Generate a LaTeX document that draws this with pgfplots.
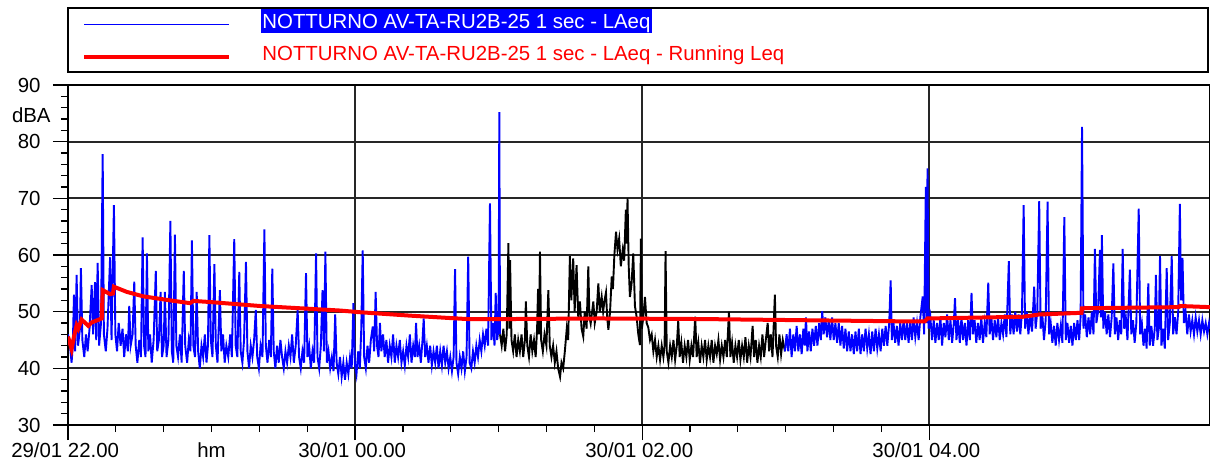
\documentclass[border=0pt]{standalone}
\usepackage{fontspec}
\setmainfont{Liberation Sans}
\usepackage{pgfplots}
\pgfplotsset{compat=1.18}
\begin{document}
\fontsize{10.2}{12}\selectfont
\begin{tikzpicture}
\begin{axis}[
  at={(0,0)}, anchor=south west,
  scale only axis, width=571pt, height=170pt,
  xmin=0, xmax=477.4, ymin=30, ymax=90,
  axis line style={black, line width=0.9pt},
  xtick={0,120,240,360},
  xticklabels={
    {\makebox[0pt][r]{29/01\ }\makebox[0pt][l]{22.00}},
    {\makebox[0pt][r]{30/01\ }\makebox[0pt][l]{00.00}},
    {\makebox[0pt][r]{30/01\ }\makebox[0pt][l]{02.00}},
    {\makebox[0pt][r]{30/01\ }\makebox[0pt][l]{04.00}}},
  minor x tick num=5,
  ytick={30,40,...,90}, minor y tick num=4,
  xtick pos=left, ytick pos=left,
  tick align=outside, major tick length=7.5pt, minor tick length=3.5pt,
  tick style={black, line width=0.6pt},
  grid=major, major grid style={black!85, line width=1pt},
  /pgf/number format/assume math mode=true,
  tick label style={font=\fontsize{10.2}{12}\selectfont},
  xticklabel style={anchor=north, inner sep=0pt, yshift=-1pt},
  yticklabel style={anchor=east, inner sep=0pt, xshift=-6pt},
  extra x ticks={60}, extra x tick labels={hm},
  extra x tick style={grid=none, major tick length=0pt, xticklabel style={yshift=-7.5pt}},
]
% LAeq 1 sec (blue part, 22.00 - 01.00)
\addplot[blue, line width=0.95pt] coordinates {
(0,46) (0.7,44.5) (1.5,41) (2,44) (2.5,53) (3,43) (3.6,56.5) (4.2,44) (5,47) (5.4,57.7) (6,45) (6.8,42) (7.5,46) (8.2,43) (9,47) (9.9,54.7) (10.5,46) (11.3,55.2) (11.8,45) (12.4,58.6) (13,44) (13.8,48) (14.5,77.8) (15,46) (15.8,43) (16.5,47) (17.6,59.6) (18.2,45) (19.2,68.8) (19.8,46) (20.5,43) (21.2,48) (22,44) (22.8,47) (23.5,42) (24.2,46) (25,43) (25.6,51) (26.2,44) (27,46) (27.7,55.3) (28.3,44) (29,41) (29.8,45) (30.5,42) (31.2,63.1) (31.8,44) (32.4,42) (33,60.3) (33.6,43) (34.3,46) (35,41) (35.8,45) (36.7,57.2) (37.3,43) (38,45) (38.7,53.5) (39.3,42) (40,44) (40.5,53.5) (41.2,42) (42,45) (42.8,66) (43.4,43) (44,41) (44.7,63.6) (45.3,44) (46,42) (46.8,46) (47.5,41) (48.4,57.2) (49,44) (49.8,41) (50.5,45) (51.2,43) (51.8,62.6) (52.4,44) (53.1,42) (53.8,53.5) (54.4,43) (55.1,40) (55.8,44) (56.5,42) (57.2,46) (57.9,41) (58.5,44) (59.1,63.5) (59.7,45) (60.4,42) (61.2,58.4) (61.8,44) (62.5,41) (63.5,53.8) (64.1,43) (64.8,46) (65.5,41) (66.2,44) (67,42) (67.8,46) (68.5,42) (69.5,62.8) (70.1,44) (70.8,42) (71.6,57) (72.2,43) (72.9,41) (73.6,45) (74.4,58.8) (75,43) (75.7,40) (76.4,44) (77.1,42) (77.8,45) (78.5,50.3) (79.1,42) (79.8,40) (80.5,44) (81.3,42) (82.1,64.5) (82.7,44) (83.4,41) (84.1,45) (84.8,42) (85.4,57.6) (86,43) (86.7,40) (87.4,44) (88.1,41) (88.8,45) (89.5,42) (90.2,40) (90.9,43) (91.6,41) (92.3,44) (93,42) (93.7,46) (94.4,41) (95.2,44) (96,50.3) (96.6,42) (97.3,40) (98,43) (98.7,41) (99.5,56.8) (100.1,42) (100.8,44) (101.5,40) (102.2,43) (102.9,41) (103.7,60.3) (104.3,42) (105,40) (105.7,44) (106.4,53.8) (107,43) (107.6,60.6) (108.2,41) (108.9,43) (109.6,40) (110.3,42) (111,39.5) (111.7,49.5) (112.3,41) (113,39) (113.7,42) (114.4,38.5) (115.1,41) (115.8,38) (116.5,41) (117.2,39) (117.9,42) (118.6,40) (119.3,51.5) (119.9,41) (120.6,39) (121.3,43) (122,40) (122.6,47) (123.2,60.8) (123.8,42) (124.5,40) (125.2,44) (125.9,41) (126.6,45) (127.4,47.4) (128,43) (128.6,53.5) (129.2,44) (129.8,42) (130.4,48) (131,43) (131.7,46) (132.4,42) (133.1,45) (133.8,41) (134.5,44) (135.2,42) (135.9,46) (136.6,41) (137.3,44) (138,42) (138.7,45) (139.4,41) (140.1,43) (140.8,40.5) (141.5,44) (142.2,42) (142.9,46) (143.6,41) (144.3,44) (145,42) (145.5,48) (146.1,42) (146.8,44) (147.5,41) (148.2,45) (148.7,48.8) (149.3,42) (150,44) (150.7,41) (151.4,44) (152.1,40.5) (152.8,43) (153.5,41) (154.2,44) (154.9,40) (155.6,43) (156.3,40.5) (157,44) (157.7,41) (158.4,43) (159.1,40) (159.8,42) (160.5,39.5) (161.2,42) (161.8,57.5) (162.4,41) (163.1,39) (163.8,42) (164.5,40) (165.2,43) (165.9,39.5) (166.6,42) (167.3,59.7) (167.9,41) (168.6,40) (169.3,43) (170,41) (170.7,44) (171.4,42) (172.1,45) (172.8,43) (173.5,46) (174.2,44) (174.9,47) (175.6,44) (176.4,69.1) (177,45) (177.7,48) (178.3,44) (178.8,53.3) (179.4,45) (180,47) (180.3,85.2) (180.6,46)
};
% LAeq 1 sec (black part, 01.00 - 03.00)
\addplot[black, line width=0.95pt] coordinates {
(180.6,46) (181.3,44) (182,47) (182.7,43) (183.4,46) (184.1,62.1) (184.5,47) (184.8,59.1) (185.4,45) (186.1,43) (186.8,46) (187.5,42) (188.2,45) (188.9,43) (189.6,46) (190.3,42) (191,45) (191.4,51.8) (192,44) (192.7,42) (193.4,46) (194.1,43) (194.8,45) (195.5,42) (196.1,47) (196.5,54) (196.9,46) (197.3,60.6) (197.8,45) (198.5,43) (199.2,46) (200,44) (200.8,53.8) (201.4,44) (202.1,42) (202.8,44) (203.5,41) (204.2,43) (204.9,40) (205.7,38.5) (206.3,41) (207,40) (207.7,43) (208.5,47) (209.1,45) (209.8,59.8) (210.4,52) (211.2,59.4) (211.8,50) (212.6,58.2) (213.3,49) (214,51.8) (214.7,47) (215.4,45.6) (216,50) (216.8,47) (217.5,58) (218,49) (218.5,47.9) (219.1,50) (219.6,51.8) (220.2,48) (221,50) (221.7,55) (222.3,50) (223.1,52.6) (223.7,50) (224.3,52) (224.9,53.4) (225.4,49) (225.9,46.8) (226.6,50) (227.3,56.2) (227.8,54) (228.4,60) (229.1,64.1) (229.7,61) (230.4,62.9) (231.1,58) (231.9,60.9) (232.5,59) (233.2,68) (233.6,62) (233.9,70) (234.4,58) (234.9,52.6) (235.6,55) (236.3,60.3) (237,51) (237.7,49.1) (238.4,46) (239.1,44.1) (239.5,62.9) (239.9,47) (240.5,49) (241.2,52.6) (241.9,48) (242.6,47.2) (243.3,45) (244,46) (244.7,43) (245.4,45) (246.1,42) (246.8,44) (247.5,41.5) (248.2,44) (248.9,42) (249.4,44) (249.8,60.7) (250.3,43) (251,41) (251.7,44) (252.4,42) (253.1,45) (253.8,41.5) (254.5,44) (255.1,48.4) (255.7,42) (256.4,44.5) (257.1,41) (257.8,44) (258.5,42) (259.2,45) (259.9,41.5) (260.6,44) (261.3,42) (262.2,49.1) (262.8,42) (263.5,44.5) (264.2,41) (264.9,44) (265.6,42) (266.3,45) (267,41.5) (267.7,44) (268.4,42) (269.1,45) (269.8,41) (270.5,44) (271.2,42.5) (271.9,45) (272.6,41.5) (273.3,44) (274,42) (274.7,45) (275.4,42) (276.3,50) (276.9,42) (277.6,44.5) (278.3,41) (279,44) (279.7,42) (280.4,45) (281.1,41.5) (281.8,44) (282.5,42) (283.2,45.5) (283.9,41) (284.6,44) (285.3,42) (286.2,47.5) (286.8,42) (287.5,45) (288.2,41) (288.9,44) (289.6,42) (290.3,46) (291,42) (291.7,45) (292.5,48) (293.1,43) (293.8,46) (294.5,42) (295.5,53) (296,44) (296.7,42) (297.4,46) (298.1,42.5) (298.8,45) (299.7,43)
};
% LAeq 1 sec (blue part, 03.00 - 06.00)
\addplot[blue, line width=0.95pt] coordinates {
(299.7,43) (300.4,46) (301.1,43) (301.8,47) (302.5,42) (303.2,46) (303.9,43) (304.6,47.5) (305.3,43) (306,46) (306.7,42.5) (307.4,47) (308,44) (308.5,49) (309.1,43) (309.8,46.5) (310.5,43) (311.2,47) (311.9,44) (312.6,47.5) (313.3,44) (314,48) (314.7,45) (315.3,50.1) (315.9,46) (316.6,49) (317.3,45.5) (318,48.5) (318.7,45) (319.4,49) (320.1,45) (320.8,48) (321.5,44.5) (322.2,48) (322.9,44) (323.6,47.5) (324.3,43.5) (325,47) (325.7,43) (326.4,46.5) (327.1,43) (327.8,46) (328.5,42.5) (329.2,46.5) (329.9,43) (330.6,47) (331.3,42.5) (332,46) (332.7,43) (333.4,47) (334.1,43.5) (334.8,46) (335.5,42.5) (336.2,46.5) (336.9,43) (337.6,47) (338.3,43.5) (339,46) (339.7,43) (340.4,47) (341.1,44) (341.8,47.5) (342.5,44) (343.3,48) (343.9,55.5) (344.4,45) (345.1,48) (345.8,44.5) (346.5,47.5) (347.2,44) (347.9,48) (348.6,45) (349.3,48.5) (350,45) (350.7,48) (351.4,44.5) (352.1,48.5) (352.8,45) (353.5,49) (354.2,45.5) (354.9,48) (355.6,45) (356.3,49) (357.3,52.7) (357.9,46) (358.6,72) (359,48) (359.3,75.3) (359.8,47) (360.5,49) (361.2,45) (361.9,48.5) (362.6,44.5) (363.3,48) (364,45) (364.7,49) (365.4,44) (366.1,48) (366.8,45.5) (367.5,49.5) (368.2,45) (368.9,48.5) (369.6,44.5) (370.3,48) (370.8,52.4) (371.4,45) (372.1,48.5) (372.8,44.5) (373.5,49) (374.2,45) (374.9,48) (375.6,44) (376.3,48.5) (377,45) (377.7,53.3) (378.3,46) (379,48.5) (379.7,44.5) (380.4,48) (381.1,45) (381.8,49) (382.5,44.5) (383.2,48) (383.9,45.5) (384.7,55.1) (385.3,46) (386,49) (386.7,45) (387.4,48.5) (388.1,45.5) (388.8,49) (389.5,45) (390.2,48) (390.9,46) (391.6,49.5) (392.3,45.5) (393.3,58.9) (393.9,46) (394.6,49.5) (395.3,46) (396,50) (396.7,46.5) (397.4,49.5) (398.1,46) (398.8,50) (399.5,68.8) (400.1,47) (400.8,50) (401.5,46) (402.2,49.5) (403,46.5) (403.9,54.4) (404.5,47) (405.2,50) (406,69.5) (406.6,47) (407.3,49.5) (408,45) (408.7,48.5) (409.5,69.4) (410.1,46) (410.8,48) (411.5,44.5) (412.2,47.5) (412.9,44) (413.6,48) (414.3,45) (415,47.5) (415.7,44.5) (416.5,66.7) (417.1,45) (417.8,48) (418.5,44.5) (419.2,47.5) (419.9,44) (420.6,48) (421.3,45) (422,48.5) (422.7,45) (423.3,49) (423.9,82.6) (424.5,47) (425.2,49.5) (425.9,45.5) (426.6,49) (427.3,46) (428,50) (428.7,46) (429.3,61.1) (429.9,48) (430.6,50) (431.4,60.9) (431.8,49) (432.2,63.5) (432.8,47) (433.5,50) (434.2,46) (434.9,49.5) (435.6,45.5) (436.3,49) (437,58.5) (437.6,46) (438.3,49) (439,45) (439.7,48.5) (440.3,46) (440.9,61.1) (441.5,47) (442.2,49) (442.9,45) (443.9,57.4) (444.5,46) (445.2,48.5) (445.9,44.5) (446.6,48) (447.6,68.2) (448.2,46) (448.9,48) (449.6,44) (450.3,47) (450.9,43.5) (451.6,55) (452.2,44) (452.9,47.5) (453.6,44) (454.3,47) (454.8,56.5) (455.4,45) (456,47) (456.5,59.8) (457.1,44) (457.8,47) (458.5,43.5) (459.3,57.7) (459.9,45) (460.6,48) (461.4,59.8) (462,46) (462.7,49) (463.4,46) (464.1,50) (464.8,69) (465.3,52) (465.9,59.5) (466.5,48) (467.2,50) (467.9,46) (468.6,49.5) (469.3,46.5) (470,48.5) (470.7,46) (471.4,49) (472.1,46.5) (472.8,48.5) (473.5,46) (474.2,48.5) (474.9,46.5) (475.6,48) (476.3,46) (477,48) (477.4,47)
};
% Running Leq
\addplot[red, line width=2pt] coordinates {
(0,45.6) (1.5,43.4) (2.5,45.6) (3.6,47.6) (4.3,47.0) (5.7,48.6) (8.5,47.5) (9.9,48.1) (14.1,48.8) (14.5,53.8) (17.6,53.1) (18.8,53.2) (19.2,54.4) (24.5,53.5) (31.5,52.7) (42.6,52.0) (51.0,51.5) (52.4,51.9) (59.4,51.7) (80.3,51.0) (113.7,50.2) (122.1,49.9) (143,49.3) (166.7,48.7) (184.8,48.7) (222.4,48.8) (264.2,48.7) (306,48.5) (347.8,48.3) (358.2,48.3) (359.3,48.8) (399.2,49.1) (405.9,49.5) (423.7,49.8) (423.9,50.6) (464.4,50.8) (464.8,51.0) (477.4,50.8)
};
\end{axis}
% y unit label
\node[anchor=base east, inner sep=0pt] at (-8.5pt,151.2pt) {dBA};
% legend
\draw[black, line width=0.6pt] (0pt,176.5pt) rectangle (570pt,208.5pt);
\draw[blue, line width=0.65pt] (8pt,200.3pt) -- (80.5pt,200.3pt);
\draw[red, line width=2pt] (8pt,184.2pt) -- (80.5pt,184.2pt);
\fill[blue] (96.5pt,196pt) rectangle (292pt,208.2pt);
\node[anchor=base west, inner sep=0pt, text=white] at (97pt,198.3pt) {NOTTURNO AV-TA-RU2B-25 1 sec - LAeq};
\node[anchor=base west, inner sep=0pt, text=red] at (97pt,182pt) {NOTTURNO AV-TA-RU2B-25 1 sec - LAeq - Running Leq};
\pgfresetboundingbox
\useasboundingbox (-34pt,-21pt) rectangle (571pt,212.5pt);
\end{tikzpicture}
\end{document}
